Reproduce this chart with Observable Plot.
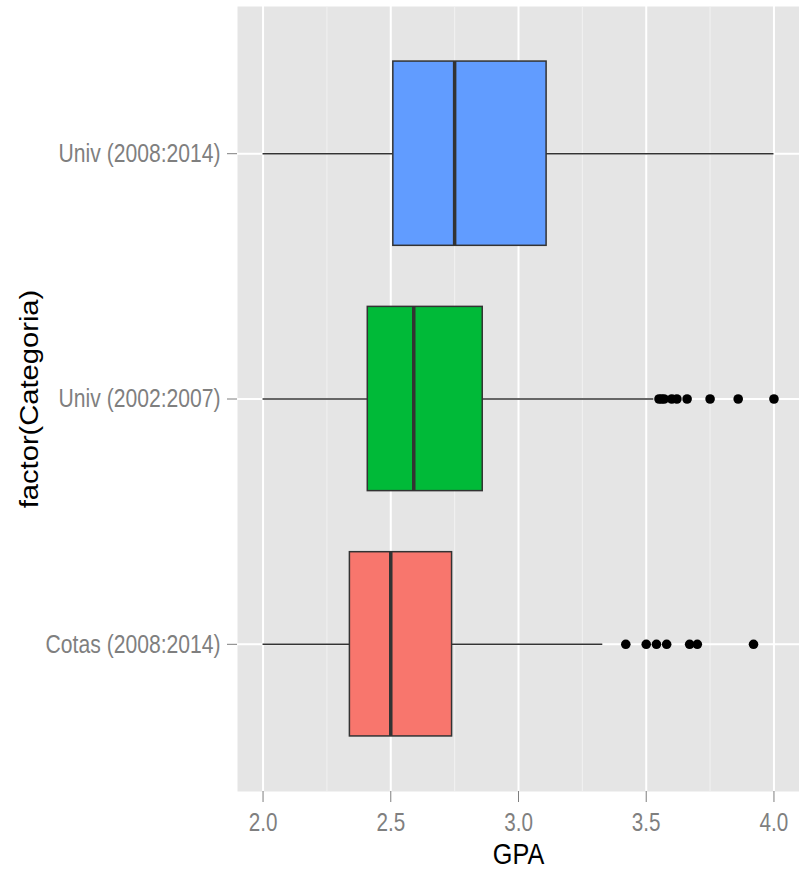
<!DOCTYPE html>
<html>
<head>
<meta charset="utf-8">
<script src="https://cdn.jsdelivr.net/npm/d3@7"></script>
<script src="https://cdn.jsdelivr.net/npm/@observablehq/plot@0.6"></script>
<style>
  html, body { margin: 0; padding: 0; background: white; }
</style>
</head>
<body>
<script>
// Categories (bottom to top in the picture)
const categories = ["Cotas (2008:2014)", "Univ (2002:2007)", "Univ (2008:2014)"];
const categoryOrderTopDown = ["Univ (2008:2014)", "Univ (2002:2007)", "Cotas (2008:2014)"];
const boxFills = ["#F8766D", "#00BA38", "#619CFF"];

// Box-plot statistics (GPA), per category, same order as `categories`
const lowerWhisker = [2.00, 2.00, 2.00];
const q1 = [2.34, 2.41, 2.51];
const medians = [2.50, 2.59, 2.75];
const q3 = [2.74, 2.86, 3.11];
const upperWhisker = [3.33, 3.53, 4.00];

// Outliers
const outliersCotas = [3.42, 3.50, 3.54, 3.58, 3.67, 3.70, 3.92];
const outliersUniv0207 = [3.55, 3.56, 3.57, 3.60, 3.62, 3.66, 3.75, 3.86, 4.00];
const outliersUniv0814 = [];

// Axis ticks
const xTicks = [2.0, 2.5, 3.0, 3.5, 4.0];
const xMinorTicks = [2.25, 2.75, 3.25, 3.75];
const xTitle = "GPA";
const yTitle = "factor(Categoria)";

const boxes = categories.map((c, i) => ({
  cat: c, lo: lowerWhisker[i], q1: q1[i], med: medians[i], q3: q3[i], hi: upperWhisker[i]
}));
const outliers = [
  ...outliersCotas.map(v => ({cat: categories[0], v})),
  ...outliersUniv0207.map(v => ({cat: categories[1], v})),
  ...outliersUniv0814.map(v => ({cat: categories[2], v}))
];

const chart = Plot.plot({
  width: 799,
  height: 869,
  marginLeft: 237,
  marginRight: 0,
  marginTop: 6,
  marginBottom: 78,
  style: {fontFamily: "'Liberation Sans', Arial, sans-serif", background: "white"},
  x: {domain: [1.9, 4.1]},
  y: {domain: categoryOrderTopDown, padding: 0.2, round: false},
  color: {domain: categories, range: boxFills},
  marks: [
    Plot.frame({fill: "#E5E5E5", stroke: "none"}),
    Plot.ruleX(xMinorTicks, {stroke: "#F2F2F2", strokeWidth: 1}),
    Plot.ruleX(xTicks, {stroke: "white", strokeWidth: 2}),
    Plot.ruleY(categories, {y: d => d, stroke: "white", strokeWidth: 2}),
    Plot.ruleY(boxes, {y: "cat", x1: "lo", x2: "hi", stroke: "#333333", strokeWidth: 1.5}),
    Plot.barX(boxes, {y: "cat", x1: "q1", x2: "q3", fill: "cat", stroke: "#333333", strokeWidth: 1.5, insetTop: 6, insetBottom: 6}),
    Plot.tickX(boxes, {y: "cat", x: "med", stroke: "#333333", strokeWidth: 3.5, insetTop: 6, insetBottom: 6}),
    Plot.dot(outliers, {x: "v", y: "cat", r: 4.8, fill: "black", stroke: "none"}),
    Plot.axisX({ticks: xTicks, tickFormat: d3.format(".1f"), tickSize: 11, tickPadding: 10, fontSize: 26.5,
      color: "#7F7F7F", label: xTitle, labelArrow: "none", labelAnchor: "center", labelOffset: 72}),
    Plot.axisY({tickSize: 10, tickPadding: 7, fontSize: 25.6, color: "#7F7F7F",
      label: yTitle, labelArrow: "none", labelAnchor: "center", labelOffset: 218})
  ]
});

document.body.append(chart);

// Post-process text: condensed glyph widths as in the reference rendering
function squeeze(selector, k, size, content) {
  chart.querySelectorAll(selector).forEach(t => {
    if (size) t.setAttribute("font-size", size);
    if (content) t.textContent = content;
    const L = t.getComputedTextLength();
    t.setAttribute("textLength", L * k);
    t.setAttribute("lengthAdjust", "spacingAndGlyphs");
  });
}
squeeze('g[aria-label="x-axis tick label"] text', 0.78);
squeeze('g[aria-label="y-axis tick label"] text', 0.825);
squeeze('g[aria-label="x-axis label"] text', 0.87, 29, xTitle);
squeeze('g[aria-label="y-axis label"] text', 1.12, 26, yTitle);
chart.querySelectorAll('g[aria-label="x-axis label"], g[aria-label="y-axis label"]').forEach(g => {
  g.setAttribute("fill", "black");
  g.querySelectorAll("text").forEach(t => t.setAttribute("fill", "black"));
});
</script>
</body>
</html>
